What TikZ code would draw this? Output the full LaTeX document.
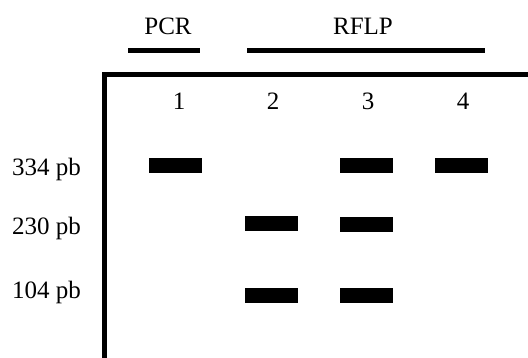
\documentclass[tikz,border=0pt]{standalone}
\usepackage{fontspec}
\setmainfont{Liberation Serif}
\begin{document}
\begin{tikzpicture}[x=1pt,y=-1pt,
  lbl/.style={font=\fontsize{25}{28}\selectfont, inner sep=0pt},
  band/.style={fill=black, draw=none, minimum width=53pt, minimum height=15pt, inner sep=0pt},
  thick line/.style={line width=5pt}]
\useasboundingbox (0,0) rectangle (528,358);
% group headers
\node[lbl, anchor=base] (pcr) at (168,35) {PCR};
\node[lbl, anchor=base] (rflp) at (363,35) {RFLP};
\coordinate (pcrL) at (128,50.5); \coordinate (pcrR) at (200,50.5);
\coordinate (rflpL) at (247,50.5); \coordinate (rflpR) at (485,50.5);
\draw[thick line] (pcrL) -- (pcrR);
\draw[thick line] (rflpL) -- (rflpR);
% frame
\coordinate (fb) at (104.5,358); \coordinate (fc) at (104.5,74.5); \coordinate (fr) at (528,74.5);
\draw[thick line, line join=miter] (fb) -- (fc) -- (fr);
% lane numbers
\node[lbl, anchor=base] (n1) at (179,110) {1};
\node[lbl, anchor=base] (n2) at (273,110) {2};
\node[lbl, anchor=base] (n3) at (368,110) {3};
\node[lbl, anchor=base] (n4) at (463,110) {4};
% size labels
\node[lbl, anchor=base west] (s334) at (12,176) {334 pb};
\node[lbl, anchor=base west] (s230) at (12,235) {230 pb};
\node[lbl, anchor=base west] (s104) at (12,299) {104 pb};
% bands
\node[band] (b1a) at (175.5,165.5) {};
\node[band] (b3a) at (366,165.5) {};
\node[band] (b4a) at (461,165.5) {};
\node[band] (b2b) at (271.5,224) {};
\node[band] (b3b) at (366,224.5) {};
\node[band] (b2c) at (271,295.5) {};
\node[band] (b3c) at (366,295.5) {};
\end{tikzpicture}
\end{document}
